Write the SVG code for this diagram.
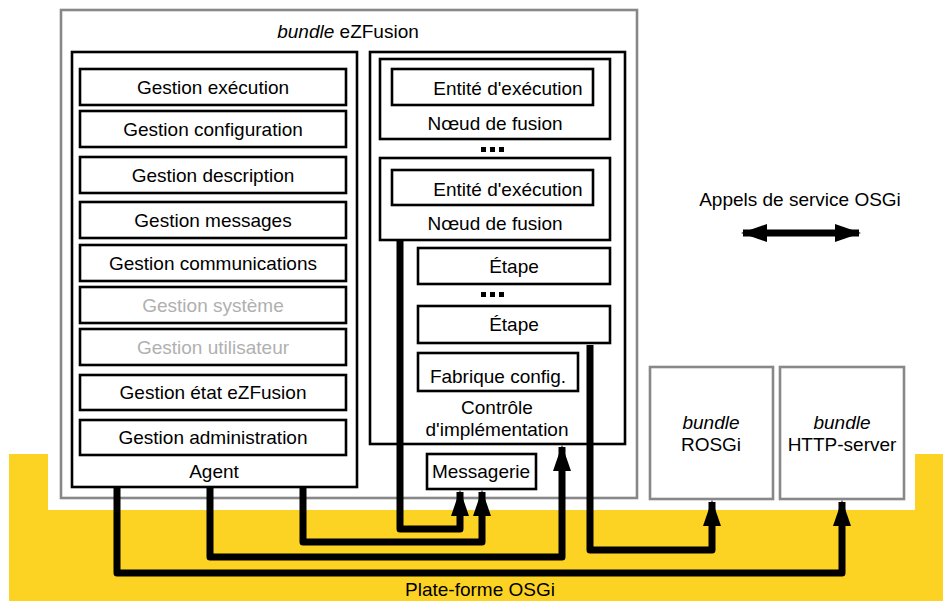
<svg xmlns="http://www.w3.org/2000/svg" width="943" height="601" viewBox="0 0 943 601">
<defs>
<style>
text{font-family:"Liberation Sans",Arial,sans-serif;font-size:19px;fill:#000;text-anchor:middle}
.it{font-style:italic}
.dim{fill:#b0b0b0}
.box{fill:#fff;stroke:#000;stroke-width:2.6}
.gbox{fill:#fff;stroke:#888;stroke-width:2.6}
.conn{fill:none;stroke:#000;stroke-width:7;stroke-linejoin:round}
</style>
<marker id="ah" viewBox="0 0 26 18" refX="24" refY="9" markerWidth="26" markerHeight="18" markerUnits="userSpaceOnUse" orient="auto-start-reverse">
<path d="M0,0 L26,9 L0,18 Z" fill="#000"/>
</marker>
</defs>
<rect width="943" height="601" fill="#fff"/>
<g id="platform">
<path d="M9,454 H48 V510 H915 V454 H943 V601 H9 Z" fill="#FDD323"/>
<text x="480" y="596">Plate-forme OSGi</text>
</g>
<g id="bundle-ezfusion">
<rect class="gbox" x="61" y="10" width="576" height="488"/>
<text x="348" y="38"><tspan class="it">bundle</tspan> eZFusion</text>
</g>
<g id="agent">
<rect class="box" x="72" y="52" width="285" height="435"/>
<text x="214" y="478">Agent</text>
</g>
<g id="gestion-execution"><rect class="box" x="80" y="69" width="266" height="36"/><text x="213" y="94">Gestion exécution</text></g>
<g id="gestion-configuration"><rect class="box" x="80" y="111" width="266" height="36"/><text x="213" y="136">Gestion configuration</text></g>
<g id="gestion-description"><rect class="box" x="80" y="157" width="266" height="36"/><text x="213" y="182">Gestion description</text></g>
<g id="gestion-messages"><rect class="box" x="80" y="202" width="266" height="36"/><text x="213" y="227">Gestion messages</text></g>
<g id="gestion-communications"><rect class="box" x="80" y="245" width="266" height="36"/><text x="213" y="270">Gestion communications</text></g>
<g id="gestion-systeme"><rect class="box" x="80" y="287" width="266" height="36"/><text class="dim" x="213" y="312">Gestion système</text></g>
<g id="gestion-utilisateur"><rect class="box" x="80" y="329" width="266" height="36"/><text class="dim" x="213" y="354">Gestion utilisateur</text></g>
<g id="gestion-etat"><rect class="box" x="80" y="375" width="266" height="35"/><text x="213" y="399">Gestion état eZFusion</text></g>
<g id="gestion-administration"><rect class="box" x="80" y="420" width="266" height="35"/><text x="213" y="444">Gestion administration</text></g>
<g id="controle-implementation">
<rect class="box" x="370" y="52" width="255" height="392"/>
<text x="497" y="414">Contrôle</text>
<text x="497" y="436">d'implémentation</text>
</g>
<g id="noeud-fusion-1">
<rect class="box" x="380" y="59" width="230" height="80"/>
<text x="495" y="130">Nœud de fusion</text>
</g>
<g id="entite-1"><rect class="box" x="392" y="69" width="201" height="36"/><text x="508" y="95">Entité d'exécution</text></g>
<g id="dots-1"><rect x="481" y="147" width="5" height="5"/><rect x="490" y="147" width="5" height="5"/><rect x="499" y="147" width="5" height="5"/></g>
<g id="noeud-fusion-2">
<rect class="box" x="380" y="158" width="230" height="82"/>
<text x="495" y="230">Nœud de fusion</text>
</g>
<g id="entite-2"><rect class="box" x="392" y="170" width="201" height="35"/><text x="508" y="196">Entité d'exécution</text></g>
<g id="etape-1"><rect class="box" x="418" y="248" width="192" height="36"/><text x="514" y="273">Étape</text></g>
<g id="dots-2"><rect x="481" y="292" width="5" height="5"/><rect x="490" y="292" width="5" height="5"/><rect x="499" y="292" width="5" height="5"/></g>
<g id="etape-2"><rect class="box" x="418" y="306" width="192" height="37"/><text x="514" y="331">Étape</text></g>
<g id="fabrique-config"><rect class="box" x="418" y="353" width="160" height="38"/><text x="498" y="383">Fabrique config.</text></g>
<g id="messagerie"><rect class="box" x="427" y="454" width="109" height="35"/><text x="481" y="478">Messagerie</text></g>
<g id="bundle-rosgi">
<rect class="gbox" x="650" y="367" width="123" height="132"/>
<text class="it" x="711" y="429">bundle</text>
<text x="711" y="451">ROSGi</text>
</g>
<g id="bundle-http">
<rect class="gbox" x="780" y="367" width="124" height="132"/>
<text class="it" x="842" y="429">bundle</text>
<text x="842" y="451">HTTP-server</text>
</g>
<g id="legend">
<text x="800" y="206">Appels de service OSGi</text>
<line class="conn" x1="743" y1="233" x2="859" y2="233" marker-start="url(#ah)" marker-end="url(#ah)"/>
</g>
<g id="connectors">
<path class="conn" d="M400,240 V529 H460 V492" marker-end="url(#ah)"/>
<path class="conn" d="M303,487 V542 H482 V492" marker-end="url(#ah)"/>
<path class="conn" d="M210,487 V557 H562 V447" marker-end="url(#ah)"/>
<path class="conn" d="M117,487 V573 H842 V502" marker-end="url(#ah)"/>
<path class="conn" d="M590,345 V550 H712 V502" marker-end="url(#ah)"/>
</g>
</svg>
